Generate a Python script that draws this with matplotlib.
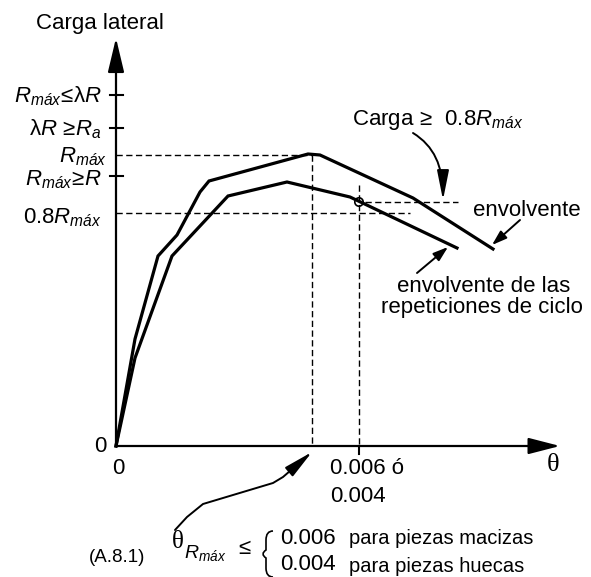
import matplotlib
matplotlib.use("Agg")
import matplotlib.pyplot as plt
from matplotlib.patches import FancyArrowPatch, Circle, PathPatch
from matplotlib.path import Path

plt.rcParams['font.family'] = ['Liberation Sans', 'DejaVu Sans']
plt.rcParams['mathtext.fontset'] = 'custom'
plt.rcParams['mathtext.rm'] = 'Liberation Sans'
plt.rcParams['mathtext.it'] = 'Liberation Sans:italic'
plt.rcParams['mathtext.bf'] = 'Liberation Sans:bold'

# ---- data (diagram units: drift theta -> x, lateral load -> y) ----
env_x = [0, 19, 42, 61, 84, 93, 192, 204, 297, 377]
env_y = [0, 107, 190, 211, 254, 265, 292, 291, 248, 197]
rep_x = [0, 19, 56, 112, 171, 234, 341]
rep_y = [0, 88, 190, 250, 264, 249, 198]

r_max = 291          # Rmáx level
r_08 = 233           # 0.8 Rmáx level
theta_rmax = 196     # theta at Rmáx
theta_lim = 243      # 0.006 ó 0.004
circle_y = 244       # point on cycle-repetition envelope

ytick_vals = [351, 318, 270]
ytick_labels = [r'$R_{máx}\!\leq\!\mathrm{λ}R$', r'$\mathrm{λ}R\ \!\geq\! R_a$', r'$R_{máx}\!\geq\! R$']
ytick_base = [344, 311, 261]

fig = plt.figure(figsize=(5.91, 5.77), dpi=100)
ax = fig.add_axes([0, 0, 1, 1])
ax.set_xlim(-116, 475)
ax.set_ylim(-131, 446)
ax.axis('off')

k = 'black'
# axes with arrows
ax.annotate('', xy=(444, 0), xytext=(0, 0),
            arrowprops=dict(arrowstyle='-|>,head_length=0.97,head_width=0.25',
                            mutation_scale=20, lw=1.6, color=k, shrinkA=0, shrinkB=0))
ax.annotate('', xy=(0, 408), xytext=(0, 0),
            arrowprops=dict(arrowstyle='-|>,head_length=1.05,head_width=0.25',
                            mutation_scale=20, lw=1.6, color=k, shrinkA=0, shrinkB=0))

# curves
ax.plot(env_x, env_y, color=k, lw=2.3, solid_joinstyle='miter')
ax.plot(rep_x, rep_y, color=k, lw=2.3, solid_joinstyle='miter')

# dashed guides
dash = dict(color=k, lw=1.0, dashes=(4.5, 2.5))
ax.plot([0, theta_rmax], [r_max, r_max], **dash)
ax.plot([theta_rmax, theta_rmax], [r_max, 0], **dash)
ax.plot([0, 294], [r_08, r_08], **dash)
ax.plot([theta_lim, theta_lim], [261, 0], **dash)
ax.plot([theta_lim + 6, 342], [circle_y, circle_y], **dash)
ax.add_patch(Circle((theta_lim, circle_y), 4.2, fill=False, ec=k, lw=1.2))

# y ticks
for v in ytick_vals:
    ax.plot([-6, 7], [v, v], color=k, lw=1.5)
ax.plot([theta_lim, theta_lim], [0, -8], color=k, lw=1.5)

fs = 16
for lab, yb in zip(ytick_labels, ytick_base):
    ax.text(-14, yb, lab, ha='right', va='baseline', fontsize=fs)
ax.text(-9, 284, r'$R_{máx}$', ha='right', va='baseline', fontsize=fs)
ax.text(-14, 223, r'0.8$R_{máx}$', ha='right', va='baseline', fontsize=fs)
ax.text(-16, 0, '0', ha='center', va='center', fontsize=fs)
ax.text(2, -22, '0', ha='center', va='center', fontsize=fs)
ax.text(214, -22, '0.006 ó', ha='left', va='center', fontsize=fs)
ax.text(214, -51, '0.004', ha='left', va='center', fontsize=fs)
ax.text(437, -19, 'θ', ha='center', va='center', fontsize=19, family='Liberation Serif')
ax.text(-16, 423, 'Carga lateral', ha='center', va='center', fontsize=fs)

# annotations
ax.text(236, 321, r'Carga$\,\geq\,$ 0.8$R_{máx}$', ha='left', va='baseline', fontsize=fs)
carga_path = Path([(297, 313), (318, 300), (327, 280), (327, 246)],
                  [Path.MOVETO, Path.CURVE4, Path.CURVE4, Path.CURVE4])
ax.add_patch(FancyArrowPatch(path=carga_path, arrowstyle='-|>,head_length=0.9,head_width=0.18',
                             mutation_scale=20, lw=1.4, color=k))

ax.text(411, 236, 'envolvente', ha='center', va='center', fontsize=fs)
ax.annotate('', xy=(376, 201), xytext=(404, 226),
            arrowprops=dict(arrowstyle='-|>,head_length=0.9,head_width=0.3',
                            mutation_scale=10, lw=1.4, color=k, shrinkA=0, shrinkB=0))
ax.text(368, 160, 'envolvente de las', ha='center', va='center', fontsize=fs)
ax.text(366, 138, 'repeticiones de ciclo', ha='center', va='center', fontsize=fs)
ax.annotate('', xy=(332, 199), xytext=(301, 173),
            arrowprops=dict(arrowstyle='-|>,head_length=0.9,head_width=0.3',
                            mutation_scale=10, lw=1.4, color=k, shrinkA=0, shrinkB=0))

# bottom arrow to theta at Rmáx
bot_path = Path([(59, -84), (71, -71), (87, -58), (157, -37), (167, -31), (theta_rmax, -6)])
ax.add_patch(FancyArrowPatch(path=bot_path, arrowstyle='-|>,head_length=0.9,head_width=0.18',
                             mutation_scale=20, lw=1.4, color=k, joinstyle='round'))

# bottom equation
ax.text(1, -111, '(A.8.1)', ha='center', va='center', fontsize=13.5)
ax.text(56, -96, 'θ', ha='left', va='center', fontsize=18, family='Liberation Serif')
ax.text(68, -112, r'$R_{máx}$', ha='left', va='baseline', fontsize=14)
ax.text(128, -102, '≤', ha='center', va='center', fontsize=16)
brace = Path([(157, -85), (150, -85), (150, -94), (150, -104), (144, -108),
              (150, -112), (150, -122), (150, -131), (157, -131)],
             [Path.MOVETO, Path.CURVE3, Path.CURVE3, Path.LINETO, Path.CURVE3,
              Path.CURVE3, Path.LINETO, Path.CURVE3, Path.CURVE3])
ax.add_patch(PathPatch(brace, fill=False, ec=k, lw=1.2))
ax.text(164, -92, '0.006', ha='left', va='center', fontsize=fs)
ax.text(233, -92, 'para piezas macizas', ha='left', va='center', fontsize=14.5)
ax.text(164, -119, '0.004', ha='left', va='center', fontsize=fs)
ax.text(233, -121, 'para piezas huecas', ha='left', va='center', fontsize=14.5)

fig.savefig('out.png', dpi=100)
